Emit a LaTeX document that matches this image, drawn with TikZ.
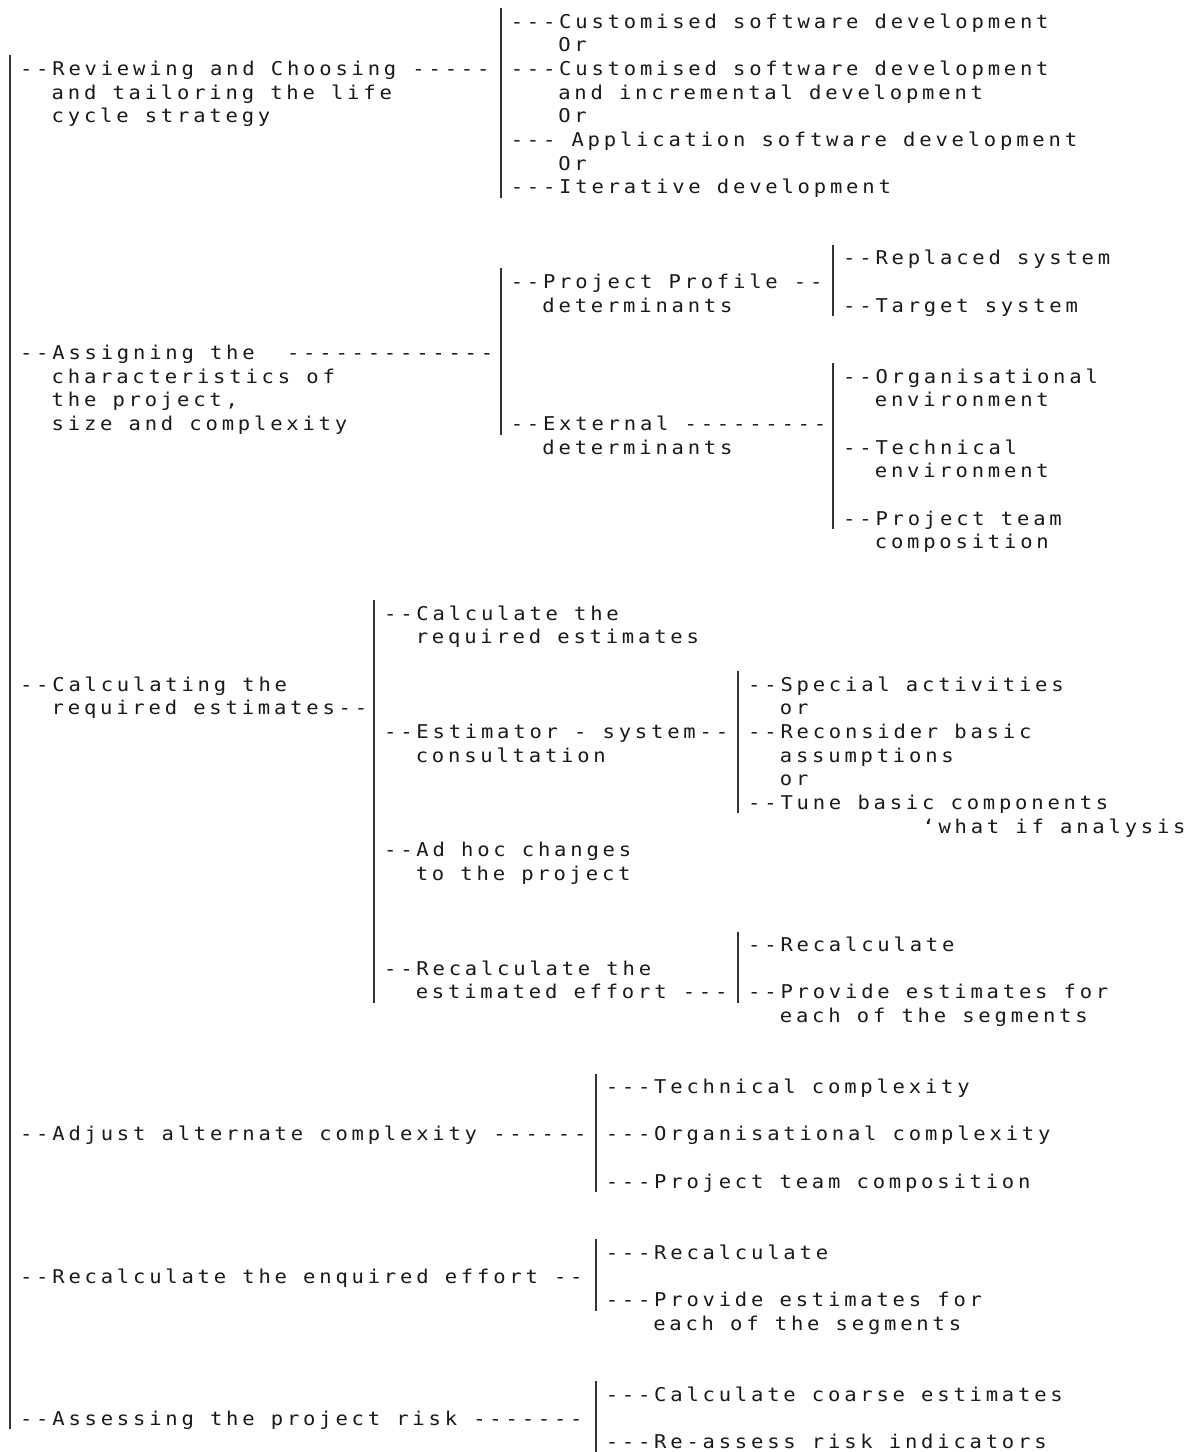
\documentclass[tikz,border=0pt]{standalone}
\usepackage{fontspec}
\setmonofont{DejaVu Sans Mono}[FakeStretch=1.08,LetterSpace=20]
\newcommand\treefont{\ttfamily\fontsize{9.5pt}{11pt}\selectfont}

\tikzset{
  tree text/.style={anchor=base west,inner sep=0pt,text=black!90,font=\treefont},
  bar/.style={line width=1.1pt,black!80}
}
% one line of the tree: name, column, row, text
\newcommand\tline[4]{\node[tree text] (#1) at ({10+15.83*#2-6.17},{28+23.68*#3}) {#4};}

\begin{document}
\begin{tikzpicture}[x=0.5pt,y=-0.5pt]
\useasboundingbox (0,0) rectangle (1199,1452);
% vertical bars: column/first row/last row
\foreach \c/\a/\b in {0/2/59,31/0/7,31/11/17,52/10/12,52/15/21,23/25/41,
  46/28/33,46/39/41,37/45/49,37/52/54,37/58/60}
  \draw[bar] ({10+15.83*\c},{8+23.68*\a}) -- ({10+15.83*\c},{32+23.68*\b});
% life cycle strategy
\tline{cs1}{32}{0}{---Customised software development}
\tline{or1}{35}{1}{Or}
\tline{rev}{1}{2}{--Reviewing and Choosing -----}
\tline{cs2}{32}{2}{---Customised software development}
\tline{rev2}{3}{3}{and tailoring the life}
\tline{cs3}{35}{3}{and incremental development}
\tline{rev3}{3}{4}{cycle strategy}
\tline{or2}{35}{4}{Or}
\tline{app}{32}{5}{---\ Application software development}
\tline{or3}{35}{6}{Or}
\tline{itr}{32}{7}{---Iterative development}
% characteristics of the project
\tline{repl}{53}{10}{--Replaced system}
\tline{prof}{32}{11}{--Project Profile --}
\tline{prof2}{34}{12}{determinants}
\tline{targ}{53}{12}{--Target system}
\tline{asg}{1}{14}{--Assigning the\ \ -------------}
\tline{asg2}{3}{15}{characteristics of}
\tline{org}{53}{15}{--Organisational}
\tline{asg3}{3}{16}{the project,}
\tline{org2}{55}{16}{environment}
\tline{asg4}{3}{17}{size and complexity}
\tline{ext}{32}{17}{--External ---------}
\tline{ext2}{34}{18}{determinants}
\tline{tech}{53}{18}{--Technical}
\tline{tech2}{55}{19}{environment}
\tline{team}{53}{21}{--Project team}
\tline{team2}{55}{22}{composition}
% estimates
\tline{calc}{24}{25}{--Calculate the}
\tline{calc2}{26}{26}{required estimates}
\tline{cre}{1}{28}{--Calculating the}
\tline{spec}{47}{28}{--Special activities}
\tline{cre2}{3}{29}{required estimates--}
\tline{or4}{49}{29}{or}
\tline{est}{24}{30}{--Estimator - system--}
\tline{recon}{47}{30}{--Reconsider basic}
\tline{est2}{26}{31}{consultation}
\tline{recon2}{49}{31}{assumptions}
\tline{or5}{49}{32}{or}
\tline{tune}{47}{33}{--Tune basic components}
\tline{whatif}{58}{34}{‘what if analysis}
\tline{adhoc}{24}{35}{--Ad hoc changes}
\tline{adhoc2}{26}{36}{to the project}
\tline{rc1}{47}{39}{--Recalculate}
\tline{ree}{24}{40}{--Recalculate the}
\tline{ree2}{26}{41}{estimated effort ---}
\tline{prov1}{47}{41}{--Provide estimates for}
\tline{prov1b}{49}{42}{each of the segments}
% complexity, effort, risk
\tline{tc}{38}{45}{---Technical complexity}
\tline{adj}{1}{47}{--Adjust alternate complexity ------}
\tline{oc}{38}{47}{---Organisational complexity}
\tline{ptc}{38}{49}{---Project team composition}
\tline{rc2}{38}{52}{---Recalculate}
\tline{rqe}{1}{53}{--Recalculate the enquired effort --}
\tline{prov2}{38}{54}{---Provide estimates for}
\tline{prov2b}{41}{55}{each of the segments}
\tline{cce}{38}{58}{---Calculate coarse estimates}
\tline{risk}{1}{59}{--Assessing the project risk -------}
\tline{rai}{38}{60}{---Re-assess risk indicators}
\end{tikzpicture}
\end{document}
